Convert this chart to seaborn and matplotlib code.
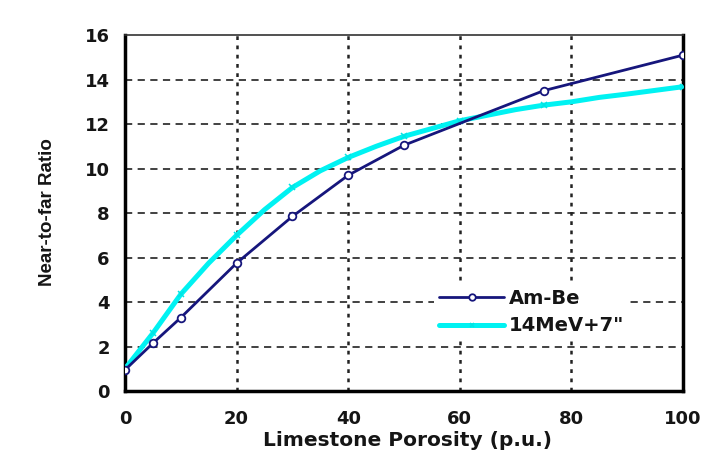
import matplotlib
matplotlib.use("Agg")
import matplotlib.pyplot as plt
import seaborn as sns
import pandas as pd

# Am-Be source
ambe_porosity = [0, 5, 10, 20, 30, 40, 50, 75, 100]
ambe_ratio = [0.95, 2.15, 3.3, 5.75, 7.85, 9.7, 11.05, 13.5, 15.1]

# 14 MeV source, 7" spacing (smooth response curve)
mev_porosity = [0, 5, 10, 15, 20, 25, 30, 35, 40, 45, 50, 55, 60, 65, 70, 75, 80, 85, 90, 100]
mev_ratio = [1.0, 2.6, 4.35, 5.75, 7.0, 8.15, 9.15, 9.9, 10.5, 11.0, 11.45, 11.8, 12.15,
             12.4, 12.65, 12.85, 13.0, 13.2, 13.35, 13.68]
mev_marked = [1, 2, 4, 6, 8, 10, 12, 15, 19]

x_ticks = [0, 20, 40, 60, 80, 100]
y_ticks = [0, 2, 4, 6, 8, 10, 12, 14, 16]

sns.set_theme(style="white")
plt.rcParams["font.family"] = ["DejaVu Sans"]
plt.rcParams["font.weight"] = "bold"

fig = plt.figure(figsize=(7.16, 4.68), dpi=100)
ax = fig.add_axes([0.1746, 0.1645, 0.7794, 0.7605])

df_a = pd.DataFrame({"x": ambe_porosity, "y": ambe_ratio})
df_m = pd.DataFrame({"x": mev_porosity, "y": mev_ratio})

navy = "#16167c"
cyan = "#00f2f2"

sns.lineplot(data=df_a, x="x", y="y", ax=ax, color=navy, linewidth=2.0,
             marker="o", markersize=5.5, markerfacecolor="white",
             markeredgecolor=navy, markeredgewidth=1.3, label="Am-Be",
             zorder=4)
sns.lineplot(data=df_m, x="x", y="y", ax=ax, color=cyan, linewidth=3.6,
             marker="x", markersize=4.0, markeredgecolor="#00e4e4",
             markeredgewidth=1.1, markevery=mev_marked, label='14MeV+7"', zorder=3)

ax.set_xlim(0, 100)
ax.set_ylim(0, 16)
ax.set_xticks(x_ticks)
ax.set_yticks(y_ticks)
ax.set_xticklabels([str(v) for v in x_ticks], fontsize=13, fontweight="bold", color="#151515")
ax.set_yticklabels([str(v) for v in y_ticks], fontsize=13, fontweight="bold", color="#151515")

# dashed horizontal grid, dotted vertical grid
for yv in y_ticks[1:-1]:
    ax.axhline(yv, color="#333333", linestyle=(0, (4, 3)), linewidth=1.3, zorder=1)
for xv in x_ticks[1:-1]:
    ax.axvline(xv, color="#222222", linestyle=(0, (1.5, 2.2)), linewidth=1.8, zorder=1)

ax.tick_params(axis="both", direction="out", length=5, width=1.5, color="black")
ax.tick_params(axis="y", pad=6)
ax.tick_params(axis="x", pad=9)

for side in ["left", "bottom", "right"]:
    ax.spines[side].set_linewidth(2.5)
    ax.spines[side].set_color("black")
ax.spines["top"].set_linewidth(1.2)
ax.spines["top"].set_color("#333333")

ax.set_xlabel("Limestone Porosity (p.u.)", fontsize=14.5, fontweight="bold", color="#151515")
ax.xaxis.set_label_coords(0.506, -0.113)
ax.set_ylabel("Near-to-far Ratio", fontsize=13.5, fontweight="bold", color="#151515",
              family=["Liberation Sans", "DejaVu Sans"])
ax.yaxis.set_label_coords(-0.123, 0.503)

# legend on an opaque white box that hides the grid behind it
leg = ax.legend(loc="upper left", bbox_to_anchor=(0.553, 0.304), frameon=True,
                fontsize=14, handlelength=3.3, handletextpad=0.25, labelspacing=0.45,
                borderpad=0.3, borderaxespad=0, markerscale=0.85, fancybox=False)
leg.get_frame().set_facecolor("white")
leg.get_frame().set_edgecolor("none")
leg.get_frame().set_alpha(1.0)
for t in leg.get_texts():
    t.set_fontweight("bold")
    t.set_color("#151515")

fig.savefig("out.png", dpi=100, facecolor="white")
